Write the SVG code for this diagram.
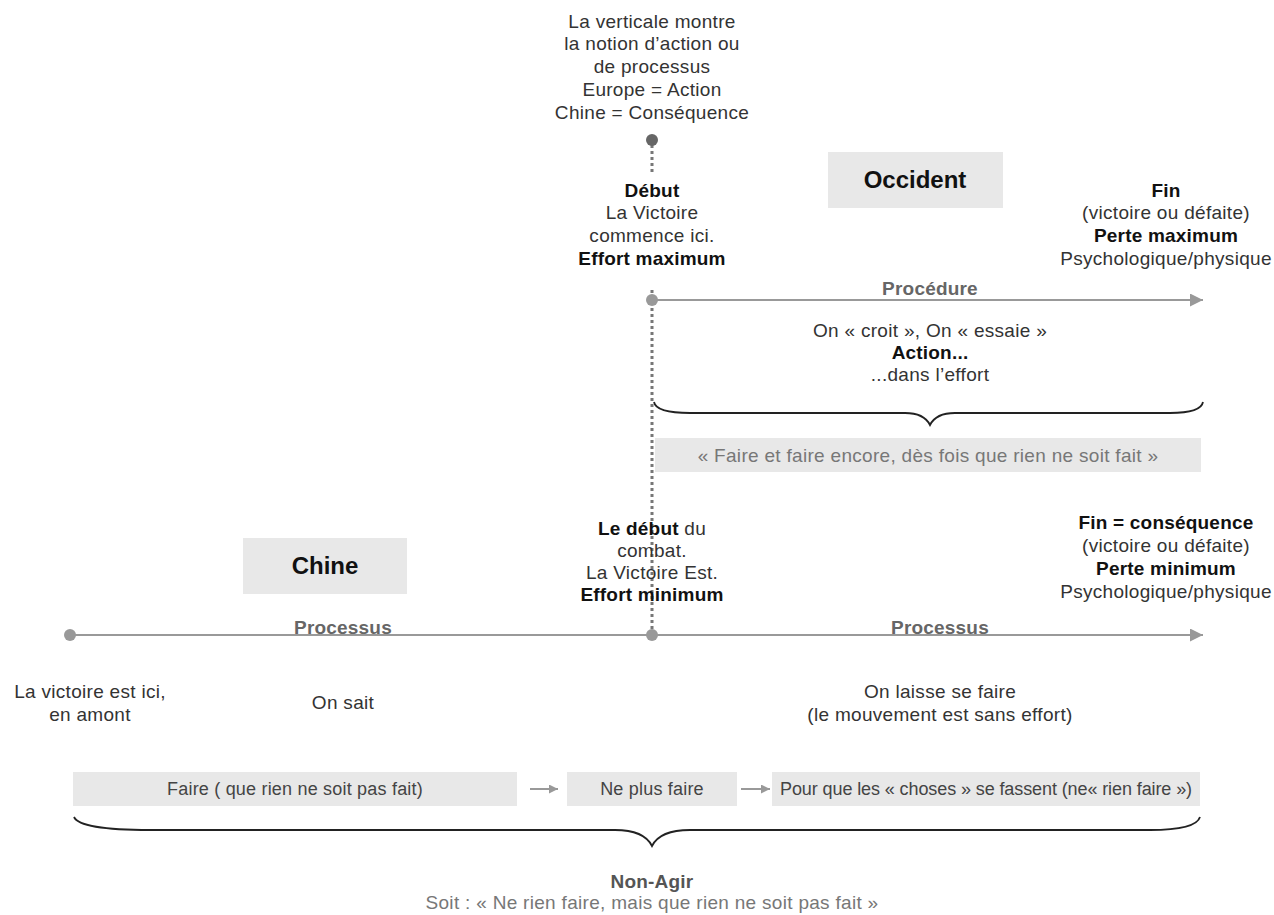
<svg xmlns="http://www.w3.org/2000/svg" width="1274" height="915" viewBox="0 0 1274 915">
<defs>
<marker id="arr" viewBox="0 0 10 10" refX="10" refY="5" markerWidth="9" markerHeight="9" markerUnits="userSpaceOnUse" orient="auto"><path d="M0,0 L10,5 L0,10 z" fill="#999"/></marker>
<marker id="arrB" viewBox="0 0 10 10" refX="10" refY="5" markerWidth="14" markerHeight="13" markerUnits="userSpaceOnUse" orient="auto"><path d="M0,0 L10,5 L0,10 z" fill="#999"/></marker>
<style>
text{font-family:"Liberation Sans",Arial,sans-serif;font-size:19px;letter-spacing:0.3px;fill:#333;text-anchor:middle}
.b{font-weight:bold;fill:#111;letter-spacing:0.2px}
.lbl{font-weight:bold;fill:#666;letter-spacing:0.2px}
.title{font-size:24px;font-weight:bold;fill:#111;letter-spacing:0}
.gr{fill:#777}
.bx{font-size:18px;fill:#444;letter-spacing:0.2px}
.box{fill:#e8e8e8}
.line{stroke:#999;stroke-width:2;fill:none}
.dot{stroke:#777;stroke-width:3;stroke-dasharray:3,3;fill:none}
.brace{stroke:#222;stroke-width:1.8;fill:none}
</style>
</defs>

<g id="connectors">
<line class="dot" x1="652" y1="145" x2="652" y2="172"/>
<line class="dot" x1="652" y1="290" x2="652" y2="630"/>
<line class="line" x1="652" y1="300" x2="1203" y2="300" marker-end="url(#arrB)"/>
<line class="line" x1="70" y1="635" x2="1203" y2="635" marker-end="url(#arrB)"/>
<line class="line" x1="530" y1="789" x2="558" y2="789" marker-end="url(#arr)"/>
<line class="line" x1="741" y1="789" x2="770" y2="789" marker-end="url(#arr)"/>
<circle cx="652" cy="140" r="6" fill="#666"/>
<circle cx="652" cy="300" r="6" fill="#999"/>
<circle cx="70" cy="635" r="6" fill="#999"/>
<circle cx="652" cy="635" r="6" fill="#999"/>
<path class="brace" d="M654,402 Q656,413 690,413 L905,413 Q924,413 930,425 Q936,413 955,413 L1170,413 Q1201,413 1203,402"/>
<path class="brace" d="M74,817 Q80,830 150,830 L615,830 Q644,830 652,846 Q660,830 690,830 L1150,830 Q1196,830 1200,817"/>
</g>

<g id="note-top">
<text x="652" y="28">La verticale montre</text>
<text x="652" y="50">la notion d’action ou</text>
<text x="652" y="73">de processus</text>
<text x="652" y="96">Europe = Action</text>
<text x="652" y="119">Chine = Conséquence</text>
</g>

<g id="debut">
<text x="652" y="197" class="b">Début</text>
<text x="652" y="219">La Victoire</text>
<text x="652" y="242">commence ici.</text>
<text x="652" y="265" class="b">Effort maximum</text>
</g>

<g id="occident">
<rect class="box" x="828" y="152" width="175" height="56"/>
<text x="915" y="188" class="title">Occident</text>
</g>

<g id="fin-occident">
<text x="1166" y="197" class="b">Fin</text>
<text x="1166" y="219">(victoire ou défaite)</text>
<text x="1166" y="242" class="b">Perte maximum</text>
<text x="1166" y="265">Psychologique/physique</text>
</g>

<g id="procedure">
<text x="930" y="295" class="lbl">Procédure</text>
<text x="930" y="337">On « croit », On « essaie »</text>
<text x="930" y="359" class="b">Action...</text>
<text x="930" y="381">...dans l’effort</text>
</g>

<g id="faire-encore">
<rect class="box" x="655" y="438" width="546" height="34"/>
<text x="928" y="462" class="gr">« Faire et faire encore, dès fois que rien ne soit fait »</text>
</g>

<g id="chine">
<rect class="box" x="243" y="538" width="164" height="56"/>
<text x="325" y="574" class="title">Chine</text>
</g>

<g id="debut-combat">
<text x="652" y="535"><tspan class="b">Le début</tspan> du</text>
<text x="652" y="557">combat.</text>
<text x="652" y="579">La Victoire Est.</text>
<text x="652" y="601" class="b">Effort minimum</text>
</g>

<g id="fin-chine">
<text x="1166" y="529" class="b">Fin = conséquence</text>
<text x="1166" y="552">(victoire ou défaite)</text>
<text x="1166" y="575" class="b">Perte minimum</text>
<text x="1166" y="598">Psychologique/physique</text>
</g>

<g id="processus-labels">
<text x="343" y="634" class="lbl">Processus</text>
<text x="940" y="634" class="lbl">Processus</text>
</g>

<g id="victoire-amont">
<text x="90" y="698">La victoire est ici,</text>
<text x="90" y="721">en amont</text>
</g>
<g id="on-sait"><text x="343" y="709">On sait</text></g>
<g id="laisse-faire">
<text x="940" y="698">On laisse se faire</text>
<text x="940" y="721">(le mouvement est sans effort)</text>
</g>

<g id="box-faire">
<rect class="box" x="73" y="772" width="444" height="34"/>
<text x="295" y="795" class="bx">Faire ( que rien ne soit pas fait)</text>
</g>
<g id="box-ne-plus">
<rect class="box" x="567" y="772" width="170" height="34"/>
<text x="652" y="795" class="bx">Ne plus faire</text>
</g>
<g id="box-pour-que">
<rect class="box" x="772" y="772" width="428" height="34"/>
<text x="986" y="795" class="bx" style="letter-spacing:-0.1px">Pour que les « choses » se fassent (ne« rien faire »)</text>
</g>

<g id="non-agir">
<text x="652" y="888" class="lbl" style="fill:#555">Non-Agir</text>
<text x="652" y="909" class="gr">Soit : « Ne rien faire, mais que rien ne soit pas fait »</text>
</g>
</svg>
